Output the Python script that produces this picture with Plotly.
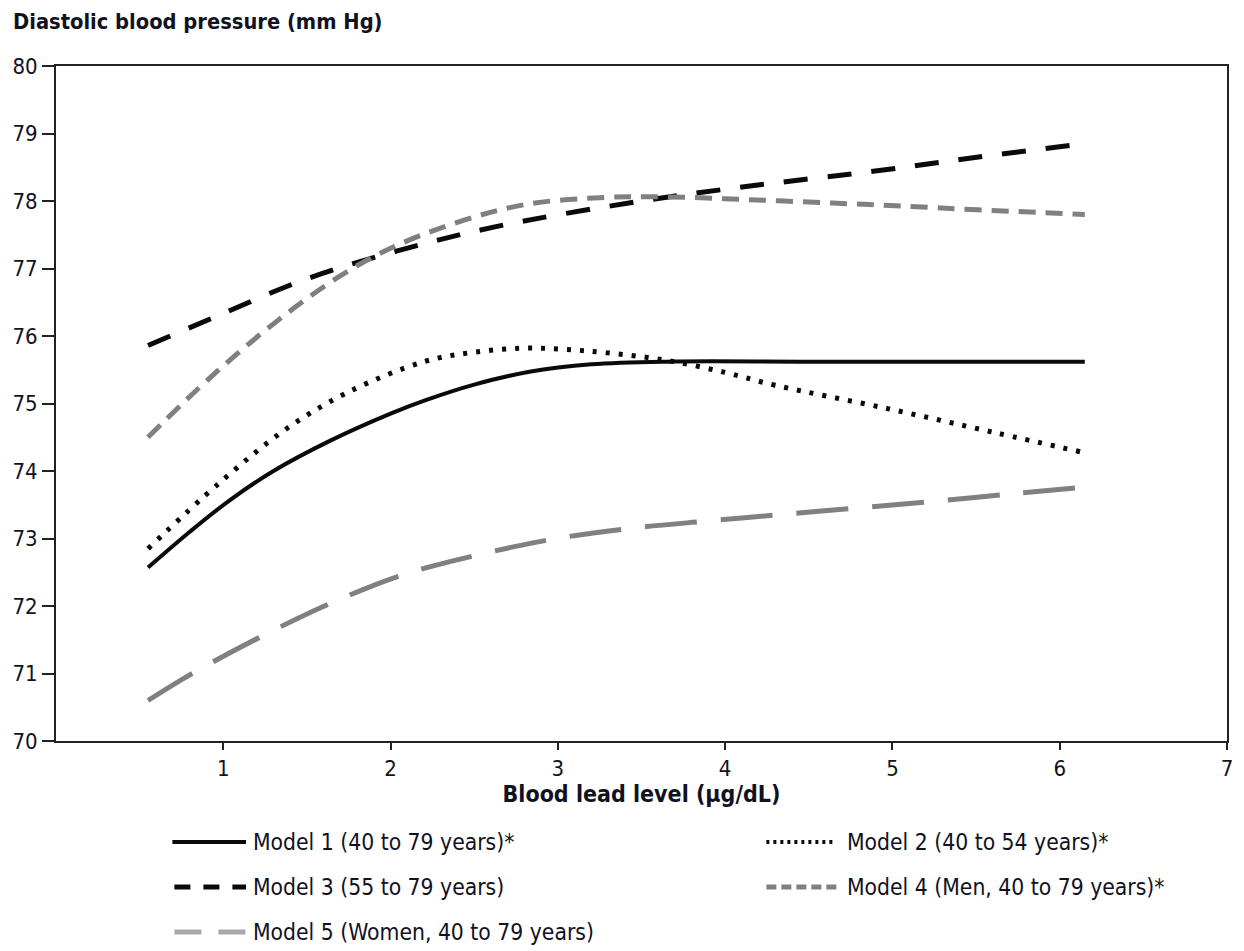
import plotly.graph_objects as go

# Blood lead level (µg/dL) and predicted diastolic blood pressure (mm Hg)
lead_m1 = [0.55, 0.8, 1.04, 1.3, 1.64, 2.0, 2.21, 2.5, 2.83, 3.2, 3.65, 4.5, 5.5, 6.15]
dbp_m1 = [72.57, 73.1, 73.57, 74.0, 74.45, 74.85, 75.05, 75.28, 75.47, 75.58, 75.62, 75.62, 75.62, 75.62]

lead_m2 = [0.55, 0.98, 1.38, 1.74, 2.2, 2.5, 2.8, 3.05, 3.3, 3.65, 4.0, 4.3, 4.96, 5.61, 6.15]
dbp_m2 = [72.85, 73.83, 74.63, 75.16, 75.62, 75.76, 75.82, 75.8, 75.75, 75.64, 75.46, 75.27, 74.93, 74.57, 74.27]

lead_m3 = [0.55, 0.94, 1.48, 2.04, 2.63, 3.5, 4.08, 4.98, 5.57, 6.15]
dbp_m3 = [75.86, 76.27, 76.83, 77.26, 77.62, 78.0, 78.2, 78.47, 78.67, 78.85]

lead_m4 = [0.55, 0.92, 1.3, 1.68, 2.0, 2.43, 2.81, 3.25, 3.65, 4.14, 4.64, 5.02, 5.51, 6.15]
dbp_m4 = [74.5, 75.38, 76.18, 76.86, 77.3, 77.71, 77.95, 78.05, 78.06, 78.02, 77.97, 77.93, 77.87, 77.8]

lead_m5 = [0.55, 0.8, 1.22, 1.64, 2.07, 2.51, 2.97, 3.43, 3.9, 4.36, 4.83, 5.29, 5.75, 6.15]
dbp_m5 = [70.6, 70.98, 71.54, 72.04, 72.46, 72.75, 72.99, 73.15, 73.26, 73.36, 73.46, 73.56, 73.67, 73.76]

legend_labels = [
    "Model 1 (40 to 79 years)*",
    "Model 2 (40 to 54 years)*",
    "Model 3 (55 to 79 years)",
    "Model 4 (Men, 40 to 79 years)*",
    "Model 5 (Women, 40 to 79 years)",
]

x_ticks = [1, 2, 3, 4, 5, 6, 7]
y_ticks = [70, 71, 72, 73, 74, 75, 76, 77, 78, 79, 80]

FONT = "Liberation Sans Narrow, Arial Narrow, DejaVu Sans Condensed, sans-serif"
INK = "#111122"
BLACK = "#0a0a0a"
GREY = "#808080"

styles = [
    dict(color=BLACK, width=4, dash="solid"),
    dict(color=BLACK, width=5, dash="4px,9px"),
    dict(color=BLACK, width=5, dash="24px,20px"),
    dict(color=GREY, width=5, dash="17px,10px"),
    dict(color=GREY, width=5, dash="52px,24px"),
]
series = [
    (lead_m1, dbp_m1),
    (lead_m2, dbp_m2),
    (lead_m3, dbp_m3),
    (lead_m4, dbp_m4),
    (lead_m5, dbp_m5),
]

fig = go.Figure()
for (xs, ys), st, name in zip(series, styles, legend_labels):
    fig.add_trace(go.Scatter(
        x=xs, y=ys, mode="lines", name=name,
        line=dict(color=st["color"], width=st["width"], dash=st["dash"],
                  shape="spline", smoothing=1.0),
        showlegend=False, hoverinfo="skip",
    ))

W, H = 1244, 951
L, R, T, B = 56, 11, 66, 210
pw, ph = W - L - R, H - T - B


def px(x):
    return (x - L) / pw


def py(y):
    return (H - B - y) / ph


# Key below the plot: two columns, sample line followed by its label
key_pos = [
    (173, 247, 252, 842),
    (770, 838, 849, 842),
    (175, 247, 252, 887),
    (770, 842, 849, 887),
    (175, 247, 252, 932),
]
key_styles = [
    dict(color=BLACK, width=4, dash="solid"),
    dict(color=BLACK, width=4, dash="3px,4px"),
    dict(color=BLACK, width=5, dash="16px,13px"),
    dict(color=GREY, width=5, dash="10px,5px"),
    dict(color="#a8a8a8", width=5, dash="27px,17px"),
]
for (x0, x1, tx, y), st, label in zip(key_pos, key_styles, legend_labels):
    fig.add_shape(type="line", xref="paper", yref="paper",
                  x0=px(x0), x1=px(x1), y0=py(y), y1=py(y),
                  line=dict(color=st["color"], width=st["width"], dash=st["dash"]))
    fig.add_annotation(xref="paper", yref="paper", x=px(tx), y=py(y),
                       text=label, showarrow=False, xanchor="left", yanchor="middle",
                       font=dict(family=FONT, size=22.7, color=INK))

fig.add_annotation(xref="paper", yref="paper", x=px(11), y=py(22),
                   text="<b>Diastolic blood pressure (mm Hg)</b>", showarrow=False,
                   xanchor="left", yanchor="middle",
                   font=dict(family=FONT, size=21.7, color=INK))

fig.update_layout(
    width=W, height=H,
    margin=dict(l=L, r=R, t=T, b=B),
    paper_bgcolor="white", plot_bgcolor="white",
    font=dict(family=FONT, size=22, color=INK),
    showlegend=False,
)
fig.update_xaxes(
    range=[0, 7], tickvals=x_ticks, ticks="outside", ticklen=7, tickwidth=1.5,
    tickcolor="#222", showline=True, linecolor="#222", linewidth=2, mirror=True,
    showgrid=False, zeroline=False,
    title=dict(text="<b>Blood lead level (µg/dL)</b>", standoff=4,
               font=dict(family=FONT, size=23, color=INK)),
    tickfont=dict(family=FONT, size=22, color=INK),
)
fig.update_yaxes(
    range=[70, 80], tickvals=y_ticks, ticks="outside", ticklen=12, tickwidth=1.5,
    tickcolor="#222", showline=True, linecolor="#222", linewidth=2, mirror=True,
    showgrid=False, zeroline=False,
    tickfont=dict(family=FONT, size=22, color=INK),
)

fig.write_html("out.html")
